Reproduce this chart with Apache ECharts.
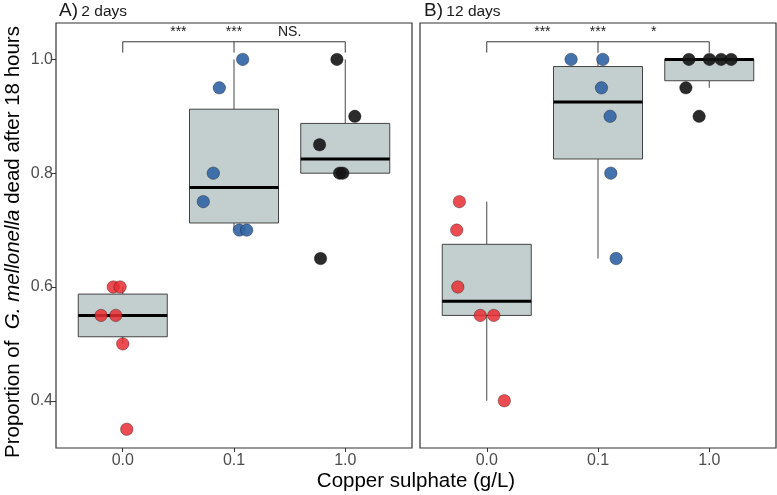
<!DOCTYPE html>
<html><head><meta charset="utf-8">
<script src="https://cdn.jsdelivr.net/npm/echarts@6/dist/echarts.min.js"></script>
<style>html,body{margin:0;padding:0;background:#fff}#c{width:777px;height:495px}</style>
</head><body><div id="c"></div>
<script>
// ---- data ----
const categories = ['0.0', '0.1', '1.0'];
const yTicks = [0.4, 0.6, 0.8, 1.0];
// Panel A (2 days): values per group and horizontal jitter (category units)
const a0 = [0.6, 0.6, 0.55, 0.55, 0.5, 0.35];
const a0Jit = [-0.085, -0.024, -0.195, -0.063, 0.0, 0.036];
const a1 = [1.0, 0.95, 0.8, 0.75, 0.7, 0.7];
const a1Jit = [0.078, -0.132, -0.186, -0.276, 0.048, 0.114];
const a2 = [1.0, 0.9, 0.85, 0.8, 0.8, 0.65];
const a2Jit = [-0.075, 0.086, -0.231, -0.051, -0.022, -0.222];
// Panel B (12 days)
const b0 = [0.75, 0.7, 0.6, 0.55, 0.55, 0.4];
const b0Jit = [-0.246, -0.27, -0.26, -0.058, 0.063, 0.158];
const b1 = [1.0, 1.0, 0.95, 0.9, 0.8, 0.65];
const b1Jit = [-0.242, 0.043, 0.031, 0.109, 0.115, 0.163];
const b2 = [1.0, 1.0, 1.0, 1.0, 0.95, 0.9];
const b2Jit = [-0.183, 0.002, 0.107, 0.197, -0.21, -0.091];
// significance labels
const sigA = ['***', '***', 'NS.'];
const sigB = ['***', '***', '*'];
const sigX = [1.5, 2, 2.5];

// ---- helpers ----
function quant(s, p) {
  const h = (s.length - 1) * p, lo = Math.floor(h);
  const hi = Math.min(lo + 1, s.length - 1);
  return s[lo] + (h - lo) * (s[hi] - s[lo]);
}
function stats(vals) {
  const s = vals.slice().sort((a, b) => a - b);
  const q1 = quant(s, 0.25), med = quant(s, 0.5), q3 = quant(s, 0.75);
  const iqr = q3 - q1;
  const lo = Math.min(...s.filter(v => v >= q1 - 1.5 * iqr - 1e-9));
  const hi = Math.max(...s.filter(v => v <= q3 + 1.5 * iqr + 1e-9));
  return [lo, q1, med, q3, hi];
}
const FONT = '"Liberation Sans", Arial, sans-serif';
const colors = ['rgba(232,45,50,0.85)', 'rgba(52,102,165,0.92)', 'rgba(20,20,20,0.9)'];

function boxSeries(idx, groups) {
  return {
    type: 'custom', xAxisIndex: idx, yAxisIndex: idx, z: 1,
    data: groups.map((g, i) => [i + 1].concat(stats(g))),
    renderItem: function (params, api) {
      const x = api.value(0);
      const half = api.size([0.4, 0])[0];
      const pLo = api.coord([x, api.value(1)]);
      const pQ1 = api.coord([x, api.value(2)]);
      const pMed = api.coord([x, api.value(3)]);
      const pQ3 = api.coord([x, api.value(4)]);
      const pHi = api.coord([x, api.value(5)]);
      const ls = { stroke: '#333', lineWidth: 0.9 };
      return {
        type: 'group', children: [
          { type: 'line', shape: { x1: pQ3[0], y1: pQ3[1], x2: pHi[0], y2: pHi[1] }, style: ls },
          { type: 'line', shape: { x1: pLo[0], y1: pLo[1], x2: pQ1[0], y2: pQ1[1] }, style: ls },
          { type: 'rect', shape: { x: pQ3[0] - half, y: pQ3[1], width: 2 * half, height: pQ1[1] - pQ3[1] },
            style: { fill: '#C3CECE', stroke: '#444', lineWidth: 1 } },
          { type: 'line', shape: { x1: pMed[0] - half, y1: pMed[1], x2: pMed[0] + half, y2: pMed[1] },
            style: { stroke: '#000', lineWidth: 3 } }
        ]
      };
    }
  };
}
function pointSeries(idx, vals, jit, gi) {
  return {
    type: 'scatter', xAxisIndex: idx, yAxisIndex: idx, z: 3,
    symbol: 'circle', symbolSize: 12.5,
    itemStyle: { color: colors[gi], borderColor: 'rgba(0,0,0,0.45)', borderWidth: 0.7, opacity: 1 },
    data: vals.map((v, i) => [gi + 1 + jit[i], v]),
    emphasis: { disabled: true }
  };
}
function bracketSeries(idx) {
  return {
    type: 'custom', xAxisIndex: idx, yAxisIndex: idx, z: 2,
    data: [[1, 2, 3]],
    renderItem: function (params, api) {
      const top = 1.031, tip = 1.012;
      const p1t = api.coord([api.value(0), top]), p1b = api.coord([api.value(0), tip]);
      const p2t = api.coord([api.value(1), top]), p2b = api.coord([api.value(1), tip]);
      const p3t = api.coord([api.value(2), top]), p3b = api.coord([api.value(2), tip]);
      const st = { stroke: '#222', lineWidth: 0.9, fill: null };
      return { type: 'group', children: [
        { type: 'polyline', shape: { points: [p1b, p1t, p3t, p3b] }, style: st },
        { type: 'line', shape: { x1: p2t[0], y1: p2t[1], x2: p2b[0], y2: p2b[1] }, style: st }
      ]};
    }
  };
}
function sigSeries(idx, labels) {
  return {
    type: 'custom', xAxisIndex: idx, yAxisIndex: idx, z: 2,
    data: sigX.map(x => [x]),
    renderItem: function (params, api) {
      const p = api.coord([api.value(0), 1.0365]);
      return { type: 'text', x: p[0], y: p[1],
        style: { text: labels[params.dataIndex], align: 'center', verticalAlign: 'bottom',
          fontSize: 14, fontFamily: FONT, fill: '#1a1a1a' } };
    }
  };
}
function xAxis(idx) {
  return {
    type: 'value', gridIndex: idx, min: 0.4, max: 3.6,
    axisLine: { show: false }, splitLine: { show: false },
    axisTick: { show: true, length: 4, lineStyle: { color: '#333' }, customValues: [1, 2, 3] },
    axisLabel: { show: true, margin: 5, color: '#4D4D4D', fontSize: 16, fontFamily: FONT,
      customValues: [1, 2, 3], formatter: v => categories[Math.round(v) - 1] }
  };
}
function yAxis(idx, showLabels) {
  return {
    type: 'value', gridIndex: idx, min: 0.317, max: 1.064,
    axisLine: { show: false }, splitLine: { show: false },
    axisTick: { show: showLabels, length: 4, lineStyle: { color: '#333' }, customValues: yTicks },
    axisLabel: { show: showLabels, margin: 3, color: '#4D4D4D', fontSize: 16, fontFamily: FONT,
      customValues: yTicks, formatter: v => v.toFixed(1) }
  };
}

const chart = echarts.init(document.getElementById('c'), null, { renderer: 'canvas' });
const titleRich = {
  a: { fontSize: 19, fontFamily: FONT, fill: '#1a1a1a', color: '#1a1a1a', verticalAlign: 'bottom' },
  b: { fontSize: 15.5, fontFamily: FONT, fill: '#1a1a1a', color: '#1a1a1a', verticalAlign: 'bottom' }
};
chart.setOption({
  animation: false,
  backgroundColor: '#fff',
  grid: [
    { left: 56, top: 23, width: 356, height: 425, show: true, borderColor: '#333', borderWidth: 1.2, backgroundColor: 'transparent' },
    { left: 420, top: 23, width: 356, height: 425, show: true, borderColor: '#333', borderWidth: 1.2, backgroundColor: 'transparent' }
  ],
  xAxis: [xAxis(0), xAxis(1)],
  yAxis: [yAxis(0, true), yAxis(1, false)],
  graphic: [
    { type: 'text', left: 59, top: 1, style: { text: '{a|A)} {b|2 days}', rich: titleRich } },
    { type: 'text', left: 424, top: 1, style: { text: '{a|B)} {b|12 days}', rich: titleRich } },
    { type: 'text', x: 416, y: 481,
      style: { text: 'Copper sulphate (g/L)', align: 'center', verticalAlign: 'middle',
        fontSize: 20.5, fontFamily: FONT, fill: '#000' } },
    { type: 'text', x: 13, y: 242, rotation: Math.PI / 2,
      style: { text: 'Proportion of  {i|G. mellonella} dead after 18 hours', align: 'center', verticalAlign: 'middle',
        fontSize: 20.5, fontFamily: FONT, fill: '#000',
        rich: { i: { fontSize: 20.5, fontFamily: FONT, fontStyle: 'italic', fill: '#000', color: '#000' } } } }
  ],
  series: [
    boxSeries(0, [a0, a1, a2]),
    pointSeries(0, a0, a0Jit, 0), pointSeries(0, a1, a1Jit, 1), pointSeries(0, a2, a2Jit, 2),
    bracketSeries(0), sigSeries(0, sigA),
    boxSeries(1, [b0, b1, b2]),
    pointSeries(1, b0, b0Jit, 0), pointSeries(1, b1, b1Jit, 1), pointSeries(1, b2, b2Jit, 2),
    bracketSeries(1), sigSeries(1, sigB)
  ]
});
</script></body></html>
